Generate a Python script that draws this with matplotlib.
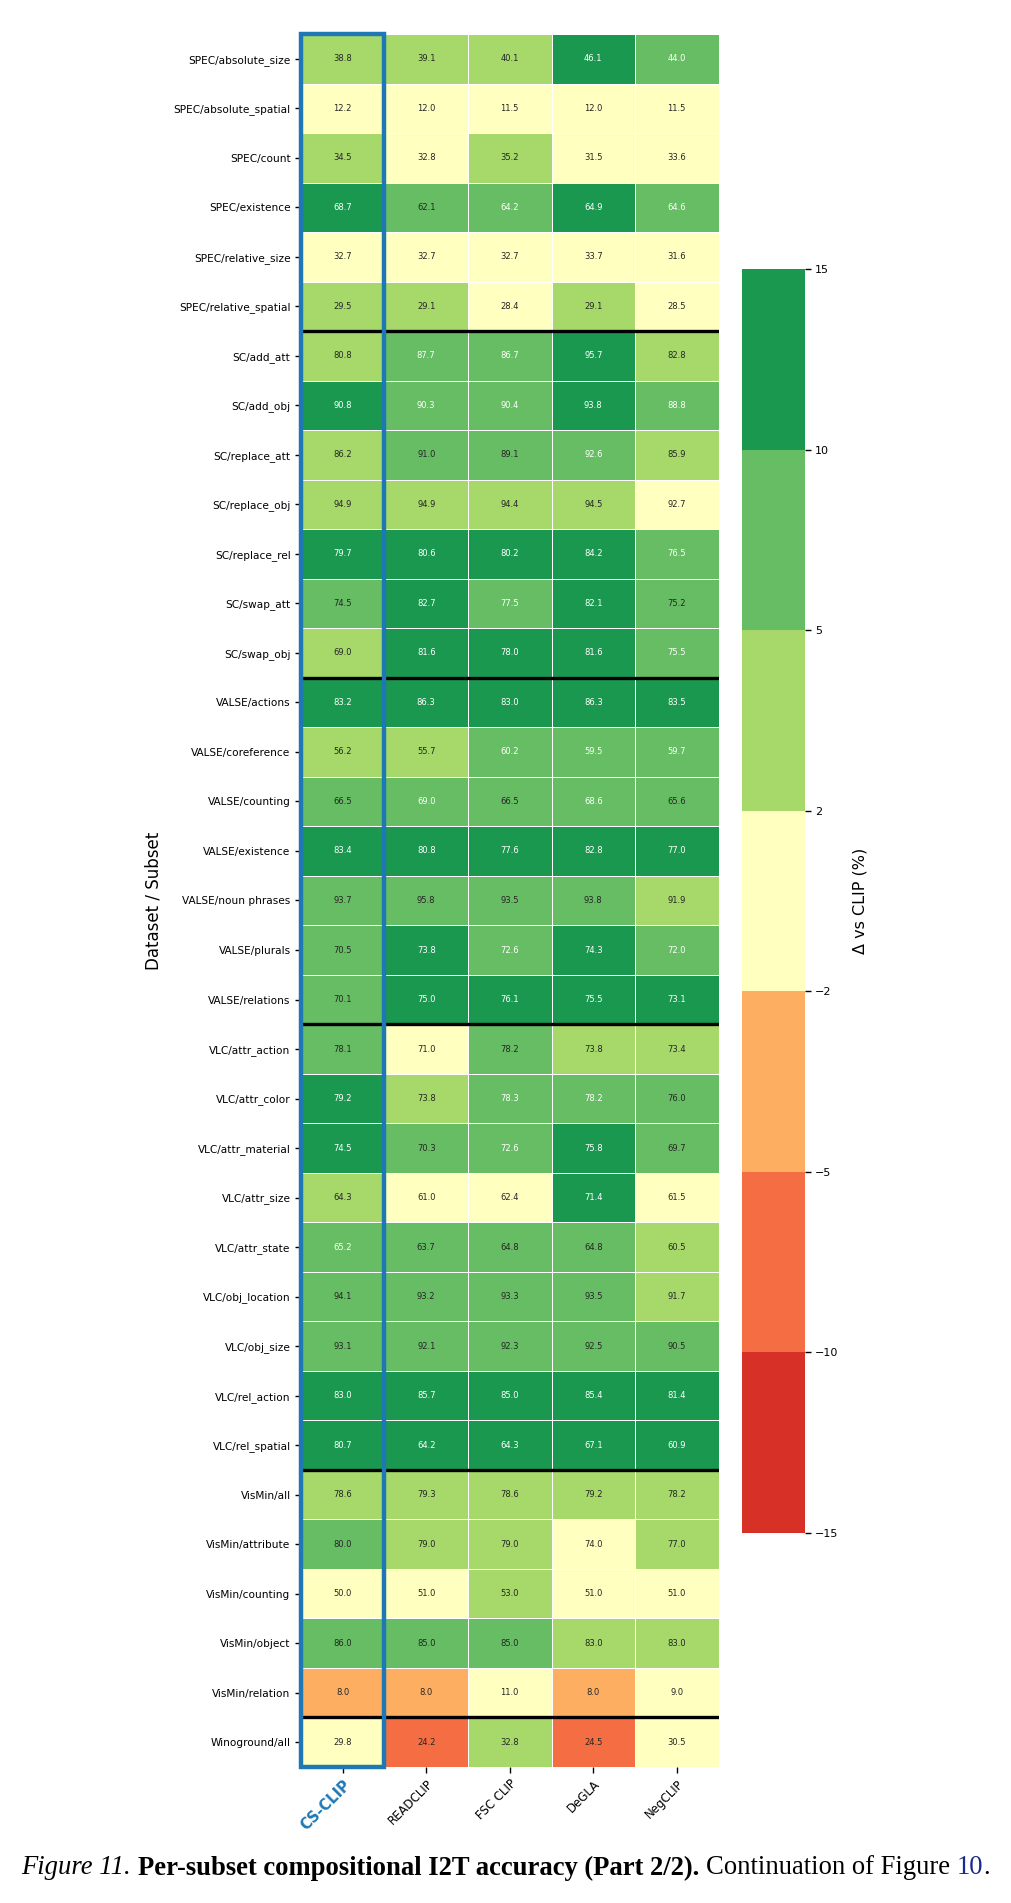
import numpy as np
import matplotlib
matplotlib.use("Agg")
import matplotlib.pyplot as plt
from matplotlib.colors import ListedColormap, BoundaryNorm
from matplotlib.patches import Rectangle

# ---------------- data ----------------
models = ["CS-CLIP", "READCLIP", "FSC CLIP", "DeGLA", "NegCLIP"]

subsets = [
    "SPEC/absolute_size", "SPEC/absolute_spatial", "SPEC/count", "SPEC/existence",
    "SPEC/relative_size", "SPEC/relative_spatial",
    "SC/add_att", "SC/add_obj", "SC/replace_att", "SC/replace_obj", "SC/replace_rel",
    "SC/swap_att", "SC/swap_obj",
    "VALSE/actions", "VALSE/coreference", "VALSE/counting", "VALSE/existence",
    "VALSE/noun phrases", "VALSE/plurals", "VALSE/relations",
    "VLC/attr_action", "VLC/attr_color", "VLC/attr_material", "VLC/attr_size",
    "VLC/attr_state", "VLC/obj_location", "VLC/obj_size", "VLC/rel_action",
    "VLC/rel_spatial",
    "VisMin/all", "VisMin/attribute", "VisMin/counting", "VisMin/object",
    "VisMin/relation",
    "Winoground/all",
]

# CLIP baseline accuracy per subset (estimated from the colour bins)
clip_baseline = [35.5, 11.8, 32.2, 54.7, 32.3, 26.8,
                 78.2, 80.6, 83.5, 91.5, 68.0, 68.5, 66.0,
                 71.5, 51.3, 60.0, 66.0, 88.0, 63.5, 62.5,
                 70.6, 69.0, 64.2, 61.0, 57.0, 87.5, 85.3, 70.0, 50.0,
                 75.5, 74.5, 50.5, 79.5, 10.5,
                 30.0]

cs_clip = [38.8, 12.2, 34.5, 68.7, 32.7, 29.5,
           80.8, 90.8, 86.2, 94.9, 79.7, 74.5, 69.0,
           83.2, 56.2, 66.5, 83.4, 93.7, 70.5, 70.1,
           78.1, 79.2, 74.5, 64.3, 65.2, 94.1, 93.1, 83.0, 80.7,
           78.6, 80.0, 50.0, 86.0, 8.0,
           29.8]
readclip = [39.1, 12.0, 32.8, 62.1, 32.7, 29.1,
            87.7, 90.3, 91.0, 94.9, 80.6, 82.7, 81.6,
            86.3, 55.7, 69.0, 80.8, 95.8, 73.8, 75.0,
            71.0, 73.8, 70.3, 61.0, 63.7, 93.2, 92.1, 85.7, 64.2,
            79.3, 79.0, 51.0, 85.0, 8.0,
            24.2]
fsc_clip = [40.1, 11.5, 35.2, 64.2, 32.7, 28.4,
            86.7, 90.4, 89.1, 94.4, 80.2, 77.5, 78.0,
            83.0, 60.2, 66.5, 77.6, 93.5, 72.6, 76.1,
            78.2, 78.3, 72.6, 62.4, 64.8, 93.3, 92.3, 85.0, 64.3,
            78.6, 79.0, 53.0, 85.0, 11.0,
            32.8]
degla = [46.1, 12.0, 31.5, 64.9, 33.7, 29.1,
         95.7, 93.8, 92.6, 94.5, 84.2, 82.1, 81.6,
         86.3, 59.5, 68.6, 82.8, 93.8, 74.3, 75.5,
         73.8, 78.2, 75.8, 71.4, 64.8, 93.5, 92.5, 85.4, 67.1,
         79.2, 74.0, 51.0, 83.0, 8.0,
         24.5]
negclip = [44.0, 11.5, 33.6, 64.6, 31.6, 28.5,
           82.8, 88.8, 85.9, 92.7, 76.5, 75.2, 75.5,
           83.5, 59.7, 65.6, 77.0, 91.9, 72.0, 73.1,
           73.4, 76.0, 69.7, 61.5, 60.5, 91.7, 90.5, 81.4, 60.9,
           78.2, 77.0, 51.0, 83.0, 9.0,
           30.5]

delta_bounds = [-15, -10, -5, -2, 2, 5, 10, 15]
bin_colors = ["#d73027", "#f46d43", "#fdae61", "#ffffbf", "#a6d96a", "#66bd63", "#1a9850"]

caption_parts = [
    ("Figure 11.", dict(style="italic")),
    ("Per-subset compositional I2T accuracy (Part 2/2).", dict(weight="bold")),
    ("Continuation of Figure", dict()),
    ("10", dict(color="#1a2a8c")),
]

# ---------------- figure ----------------
acc = np.array([cs_clip, readclip, fsc_clip, degla, negclip]).T
delta = acc - np.array(clip_baseline)[:, None]
nrows, ncols = acc.shape

fig = plt.figure(figsize=(10.11, 19.03), dpi=100)
ax = fig.add_axes([0.2977, 0.0715, 0.4130, 0.9106])

cmap = ListedColormap(bin_colors)
norm = BoundaryNorm(delta_bounds, cmap.N)
mesh = ax.pcolormesh(np.clip(delta, -14.99, 14.99), cmap=cmap, norm=norm,
                     edgecolors="white", linewidth=0.6)
ax.set_xlim(0, ncols)
ax.set_ylim(nrows, 0)

for i in range(nrows):
    for j in range(ncols):
        d = delta[i, j]
        tc = "white" if (d > 8.0 or d < -10) else "#262626"
        ax.text(j + 0.5, i + 0.5, f"{acc[i, j]:.1f}", ha="center", va="center",
                fontsize=6, color=tc)

# group separators
prefixes = [s.split("/")[0] for s in subsets]
for i in range(1, nrows):
    if prefixes[i] != prefixes[i - 1]:
        ax.axhline(i, color="black", lw=2.4, zorder=5)

for sp in ax.spines.values():
    sp.set_visible(False)

ax.set_yticks(np.arange(nrows) + 0.5)
ax.set_yticklabels(subsets, fontsize=7.6)
ax.set_xticks(np.arange(ncols) + 0.5)
ax.set_xticklabels(models, fontsize=8.5, rotation=45, ha="right", rotation_mode="anchor")
ax.tick_params(axis="both", length=4, width=1.0)
lbl0 = ax.get_xticklabels()[0]
lbl0.set_color("#1f77b4")
lbl0.set_fontweight("bold")
lbl0.set_fontsize(10.5)
ax.set_ylabel("Dataset / Subset", fontsize=12, labelpad=8)

# highlight rectangle for CS-CLIP column
rect = Rectangle((0, 0), 1, nrows, fill=False, edgecolor="#1f77b4", lw=3.2,
                 zorder=10, clip_on=False)
ax.add_patch(rect)

# colorbar
cax = fig.add_axes([0.7335, 0.1944, 0.0624, 0.6642])
cb = fig.colorbar(mesh, cax=cax, boundaries=delta_bounds, ticks=delta_bounds,
                  spacing="uniform")
cb.outline.set_visible(False)
cb.ax.tick_params(labelsize=8, length=4, width=1.0)
cb.set_label("Δ vs CLIP (%)", fontsize=11.5, labelpad=10)

# caption
fig.canvas.draw()
renderer = fig.canvas.get_renderer()
cap_fs = 19.2
texts = []
widths = []
for s, kw in caption_parts:
    t = fig.text(0, 0.0184, s, fontsize=cap_fs, family="Liberation Serif",
                 va="center", ha="left", **kw)
    texts.append(t)
    widths.append(t.get_window_extent(renderer).width)
dot = fig.text(0, 0.0184, ".", fontsize=cap_fs, family="Liberation Serif",
               va="center", ha="left")
dot_w = dot.get_window_extent(renderer).width
space_px = 0.25 * cap_fs * 100 / 72
total = sum(widths) + space_px * (len(widths) - 1) + dot_w
figw = fig.get_figwidth() * fig.dpi
x = (figw - total) / 2
for t, w in zip(texts, widths):
    t.set_x(x / figw)
    x += w + space_px
x -= space_px
dot.set_x(x / figw)

fig.savefig("out.png", dpi=100)
